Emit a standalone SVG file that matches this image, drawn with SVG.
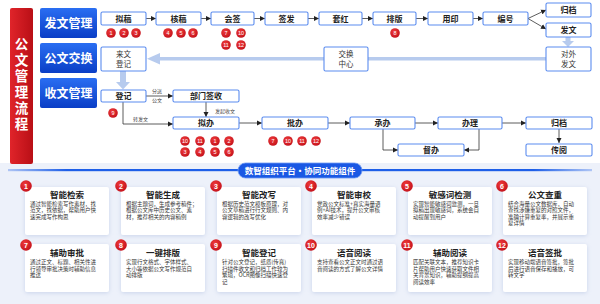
<svg xmlns="http://www.w3.org/2000/svg" width="600" height="304" viewBox="0 0 600 304">
<defs>
<linearGradient id="gBlue" x1="0" y1="0" x2="0" y2="1"><stop offset="0" stop-color="#2a6ef2"/><stop offset="1" stop-color="#0a3ec6"/></linearGradient>
<linearGradient id="gRed" x1="0" y1="0" x2="1" y2="0"><stop offset="0" stop-color="#e0242a"/><stop offset="1" stop-color="#b90f16"/></linearGradient>
<linearGradient id="gLine" x1="0" y1="0" x2="1" y2="0"><stop offset="0" stop-color="#1e5fe8" stop-opacity="0.3"/><stop offset="0.1" stop-color="#1e5fe8"/><stop offset="0.9" stop-color="#1e5fe8"/><stop offset="1" stop-color="#1e5fe8" stop-opacity="0.3"/></linearGradient>
<radialGradient id="gDot" cx="0.4" cy="0.35" r="0.7"><stop offset="0" stop-color="#ee3a3a"/><stop offset="1" stop-color="#c3101a"/></radialGradient>
<filter id="sh" x="-20%" y="-20%" width="140%" height="140%"><feDropShadow dx="0" dy="1" stdDeviation="2" flood-color="#9fb2d8" flood-opacity="0.45"/></filter>
<marker id="ah" markerWidth="6" markerHeight="6" refX="5" refY="3" orient="auto" markerUnits="userSpaceOnUse"><path d="M0,0.5 L5,3 L0,5.5 Z" fill="#222"/></marker>
</defs>
<style>
.box{fill:#fff;stroke:#5b8cef;stroke-width:1.1}
.bt{font-family:"Noto Sans CJK SC","Noto Sans",sans-serif;font-size:8px;font-weight:bold;fill:#222;text-anchor:middle}
.bt2{font-family:"Noto Sans CJK SC","Noto Sans",sans-serif;font-size:7.5px;fill:#333;text-anchor:middle}
.sm{font-family:"Noto Sans CJK SC","Noto Sans",sans-serif;font-size:5px;fill:#444}
.ln{fill:none;stroke:#333;stroke-width:0.8;marker-end:url(#ah)}
.dot{fill:url(#gDot)}
.dn{font-family:"Liberation Sans",sans-serif;font-size:5.5px;fill:#fff;text-anchor:middle}
.btn{fill:url(#gBlue)}
.btnt{font-family:"Noto Sans CJK SC","Noto Sans",sans-serif;font-size:12px;font-weight:bold;fill:#fff;text-anchor:middle}
.card{fill:#fff;filter:url(#sh)}
.ct{font-family:"Noto Sans CJK SC","Noto Sans",sans-serif;font-size:8.5px;font-weight:bold;fill:#222;text-anchor:middle}
.cd{font-family:"Noto Sans CJK SC","Noto Sans",sans-serif;font-size:5.5px;fill:#333}
.bd{fill:url(#gDot)}
.bn{font-family:"Liberation Sans",sans-serif;font-size:7px;font-weight:bold;fill:#fff;text-anchor:middle}
.vt{font-family:"Noto Sans CJK SC",sans-serif;font-size:13.5px;font-weight:bold;fill:#fff;text-anchor:middle;writing-mode:vertical-rl;letter-spacing:2.5px}
</style>
<rect width="600" height="304" fill="#fff"/>
<rect x="0" y="163" width="600" height="141" fill="#edf1fa"/>

<g id="sidebar">
<rect x="10" y="8" width="23" height="156" rx="2" fill="url(#gRed)"/>
<text class="vt" x="21.5" y="85">公文管理流程</text>
</g>

<g id="btn-fawen"><rect class="btn" x="40" y="8" width="57" height="30" rx="2"/><text class="btnt" x="68.5" y="27.5">发文管理</text></g>
<g id="btn-jiaohuan"><rect class="btn" x="40" y="43" width="57" height="30" rx="2"/><text class="btnt" x="68.5" y="62.5">公文交换</text></g>
<g id="btn-shouwen"><rect class="btn" x="40" y="78" width="57" height="30" rx="2"/><text class="btnt" x="68.5" y="97.5">收文管理</text></g>

<g id="connectors">
<rect x="158" y="57" width="388" height="3.5" fill="#b7cbee"/>
<path d="M147,58.75 L160,53 L160,64.5 Z" fill="#b7cbee"/>
<rect x="565.5" y="37" width="5" height="5" fill="#b7cbee"/>
<path d="M562,41 L574,41 L568,47 Z" fill="#b7cbee"/>
<rect x="120" y="71" width="6" height="12" fill="#b7cbee"/>
<path d="M116,82 L130,82 L123,89.5 Z" fill="#b7cbee"/>
<line class="ln" x1="146" y1="18.5" x2="156" y2="18.5"/>
<line class="ln" x1="201" y1="18.5" x2="211" y2="18.5"/>
<line class="ln" x1="254" y1="18.5" x2="265" y2="18.5"/>
<line class="ln" x1="308" y1="18.5" x2="319" y2="18.5"/>
<line class="ln" x1="362" y1="18.5" x2="373" y2="18.5"/>
<line class="ln" x1="416" y1="18.5" x2="428" y2="18.5"/>
<line class="ln" x1="473" y1="18.5" x2="483" y2="18.5"/>
<line class="ln" x1="528" y1="18.5" x2="546" y2="10"/>
<line class="ln" x1="528" y1="18.5" x2="546" y2="29"/>
<line class="ln" x1="146" y1="96" x2="173" y2="96"/>
<path class="ln" d="M123,102 L123,124 L173,124"/>
<line class="ln" x1="206" y1="102" x2="206" y2="117"/>
<line class="ln" x1="239" y1="123" x2="262" y2="123"/>
<line class="ln" x1="328" y1="123" x2="350" y2="123"/>
<line class="ln" x1="415" y1="123" x2="438" y2="123"/>
<line class="ln" x1="502" y1="123" x2="526" y2="123"/>
<path class="ln" d="M383,129 L383,150 L398,150"/>
<path class="ln" d="M479,129 L479,150 L464,150"/>
<line class="ln" x1="559" y1="129" x2="559" y2="143"/>
<text class="sm" x="152" y="93">分送</text>
<text class="sm" x="152" y="102">公文</text>
<text class="sm" x="133" y="121">转发文</text>
<text class="sm" x="215" y="113">发起收文</text>
</g>

<g id="n-nigao"><rect class="box" x="101" y="12" width="45" height="13" rx="1.5"/><text class="bt" x="123.5" y="21.5">拟稿</text></g>
<g id="n-hegao"><rect class="box" x="156" y="12" width="45" height="13" rx="1.5"/><text class="bt" x="178.5" y="21.5">核稿</text></g>
<g id="n-huiqian"><rect class="box" x="211" y="12" width="43" height="13" rx="1.5"/><text class="bt" x="232.5" y="21.5">会签</text></g>
<g id="n-qianfa"><rect class="box" x="265" y="12" width="43" height="13" rx="1.5"/><text class="bt" x="286.5" y="21.5">签发</text></g>
<g id="n-taohong"><rect class="box" x="319" y="12" width="43" height="13" rx="1.5"/><text class="bt" x="340.5" y="21.5">套红</text></g>
<g id="n-paiban"><rect class="box" x="373" y="12" width="43" height="13" rx="1.5"/><text class="bt" x="394.5" y="21.5">排版</text></g>
<g id="n-yongyin"><rect class="box" x="428" y="12" width="45" height="13" rx="1.5"/><text class="bt" x="450.5" y="21.5">用印</text></g>
<g id="n-bianhao"><rect class="box" x="483" y="12" width="45" height="13" rx="1.5"/><text class="bt" x="505.5" y="21.5">编号</text></g>
<g id="n-guidang1"><rect class="box" x="546" y="3" width="45" height="14" rx="1.5"/><text class="bt" x="568.5" y="12.8">归档</text></g>
<g id="n-fawen"><rect class="box" x="546" y="23" width="45" height="14" rx="1.5"/><text class="bt" x="568.5" y="32.8">发文</text></g>
<g id="n-duiwai"><rect class="box" x="546" y="47" width="45" height="24" rx="1.5"/><text class="bt2" x="568.5" y="57">对外</text><text class="bt2" x="568.5" y="67">发文</text></g>
<g id="n-jiaohuanzx"><rect class="box" x="324" y="47" width="44" height="24" rx="1.5"/><text class="bt2" x="346" y="57">交换</text><text class="bt2" x="346" y="67">中心</text></g>
<g id="n-laiwen"><rect class="box" x="101" y="47" width="45" height="24" rx="1.5"/><text class="bt2" x="123.5" y="57">来文</text><text class="bt2" x="123.5" y="67">登记</text></g>
<g id="n-dengji"><rect class="box" x="101" y="90" width="45" height="12" rx="1.5"/><text class="bt" x="123.5" y="99">登记</text></g>
<g id="n-bumen"><rect class="box" x="173" y="90" width="66" height="12" rx="1.5"/><text class="bt" x="206" y="99">部门签收</text></g>
<g id="n-niban"><rect class="box" x="173" y="117" width="66" height="12" rx="1.5"/><text class="bt" x="206" y="126">拟办</text></g>
<g id="n-piban"><rect class="box" x="262" y="117" width="66" height="12" rx="1.5"/><text class="bt" x="295" y="126">批办</text></g>
<g id="n-chengban"><rect class="box" x="350" y="117" width="65" height="12" rx="1.5"/><text class="bt" x="382.5" y="126">承办</text></g>
<g id="n-banli"><rect class="box" x="438" y="117" width="64" height="12" rx="1.5"/><text class="bt" x="470" y="126">办理</text></g>
<g id="n-guidang2"><rect class="box" x="526" y="117" width="66" height="12" rx="1.5"/><text class="bt" x="559" y="126">归档</text></g>
<g id="n-duban"><rect class="box" x="398" y="144" width="66" height="12" rx="1.5"/><text class="bt" x="431" y="153">督办</text></g>
<g id="n-chuanyue"><rect class="box" x="526" y="144" width="66" height="12" rx="1.5"/><text class="bt" x="559" y="153">传阅</text></g>

<g id="markers">
<circle class="dot" cx="111" cy="33" r="4.8"/><text class="dn" x="111" y="35">1</text>
<circle class="dot" cx="124" cy="33" r="4.8"/><text class="dn" x="124" y="35">2</text>
<circle class="dot" cx="136" cy="33" r="4.8"/><text class="dn" x="136" y="35">3</text>
<circle class="dot" cx="168" cy="33" r="4.8"/><text class="dn" x="168" y="35">4</text>
<circle class="dot" cx="181" cy="33" r="4.8"/><text class="dn" x="181" y="35">5</text>
<circle class="dot" cx="193" cy="33" r="4.8"/><text class="dn" x="193" y="35">6</text>
<circle class="dot" cx="226" cy="33" r="4.8"/><text class="dn" x="226" y="35">7</text>
<circle class="dot" cx="241" cy="33" r="4.8"/><text class="dn" x="241" y="35">10</text>
<circle class="dot" cx="226" cy="45" r="4.8"/><text class="dn" x="226" y="47">11</text>
<circle class="dot" cx="241" cy="45" r="4.8"/><text class="dn" x="241" y="47">12</text>
<circle class="dot" cx="395" cy="33" r="4.8"/><text class="dn" x="395" y="35">8</text>
<circle class="dot" cx="113" cy="113" r="4.8"/><text class="dn" x="113" y="115">9</text>
<circle class="dot" cx="185" cy="141" r="4.8"/><text class="dn" x="185" y="143">10</text>
<circle class="dot" cx="200" cy="141" r="4.8"/><text class="dn" x="200" y="143">11</text>
<circle class="dot" cx="215" cy="141" r="4.8"/><text class="dn" x="215" y="143">1</text>
<circle class="dot" cx="229" cy="141" r="4.8"/><text class="dn" x="229" y="143">2</text>
<circle class="dot" cx="185" cy="152" r="4.8"/><text class="dn" x="185" y="154">3</text>
<circle class="dot" cx="200" cy="152" r="4.8"/><text class="dn" x="200" y="154">4</text>
<circle class="dot" cx="215" cy="152" r="4.8"/><text class="dn" x="215" y="154">5</text>
<circle class="dot" cx="229" cy="152" r="4.8"/><text class="dn" x="229" y="154">6</text>
<circle class="dot" cx="273" cy="141" r="4.8"/><text class="dn" x="273" y="143">7</text>
<circle class="dot" cx="288" cy="141" r="4.8"/><text class="dn" x="288" y="143">10</text>
<circle class="dot" cx="302" cy="141" r="4.8"/><text class="dn" x="302" y="143">11</text>
<circle class="dot" cx="316" cy="141" r="4.8"/><text class="dn" x="316" y="143">12</text>
</g>

<g id="divider">
<rect x="8" y="169" width="584" height="2.2" fill="url(#gLine)"/>
<rect x="238" y="163" width="124" height="15" rx="7.5" fill="#1a58e4" stroke="#6f9af2" stroke-width="0.8"/>
<text x="300" y="173.8" font-family="Noto Sans CJK SC,sans-serif" font-size="8.5" font-weight="bold" fill="#fff" text-anchor="middle">数智组织平台·协同功能组件</text>
</g>

<g id="card1"><rect class="card" x="25" y="187" width="84" height="48" rx="2"/><circle class="bd" cx="26" cy="186" r="5.8"/><text class="bn" x="26" y="188.5">1</text><text class="ct" x="67" y="197.5">智能检索</text><text class="cd"><tspan x="30" y="205.5">通过智能检索写作素材，找</tspan><tspan x="30" y="212.3">范文，找依据，帮助用户快</tspan><tspan x="30" y="219.1">速完成写作构思</tspan></text></g>
<g id="card2"><rect class="card" x="121" y="187" width="84" height="48" rx="2"/><circle class="bd" cx="121" cy="186" r="5.8"/><text class="bn" x="121" y="188.5">2</text><text class="ct" x="163" y="197.5">智能生成</text><text class="cd"><tspan x="126" y="205.5">根据主题词，生成参考稿件；</tspan><tspan x="126" y="212.3">根据公文库中历史公文、素</tspan><tspan x="126" y="219.1">材，推荐相关的内容稿例</tspan></text></g>
<g id="card3"><rect class="card" x="217" y="187" width="84" height="48" rx="2"/><circle class="bd" cx="216" cy="186" r="5.8"/><text class="bn" x="216" y="188.5">3</text><text class="ct" x="259" y="197.5">智能改写</text><text class="cd"><tspan x="222" y="205.5">根据历史范文模板原理，对</tspan><tspan x="222" y="212.3">公文草稿进行行文规则、内</tspan><tspan x="222" y="219.1">容逻辑的改写优化</tspan></text></g>
<g id="card4"><rect class="card" x="312" y="187" width="84" height="48" rx="2"/><circle class="bd" cx="311" cy="186" r="5.8"/><text class="bn" x="311" y="188.5">4</text><text class="ct" x="354" y="197.5">智能审校</text><text class="cd"><tspan x="317" y="205.5">党政公文标准+真实海量语</tspan><tspan x="317" y="212.3">例+AI技术，提升公文审核</tspan><tspan x="317" y="219.1">效率减少错误</tspan></text></g>
<g id="card5"><rect class="card" x="408" y="187" width="84" height="48" rx="2"/><circle class="bd" cx="407" cy="186" r="5.8"/><text class="bn" x="407" y="188.5">5</text><text class="ct" x="450" y="197.5">敏感词检测</text><text class="cd"><tspan x="413" y="205.5">实现智能敏感词监测，一旦</tspan><tspan x="413" y="212.3">拟稿出现敏感词，系统会自</tspan><tspan x="413" y="219.1">动提醒到用户</tspan></text></g>
<g id="card6"><rect class="card" x="503" y="187" width="84" height="48" rx="2"/><circle class="bd" cx="502" cy="186" r="5.8"/><text class="bn" x="502" y="188.5">6</text><text class="ct" x="545" y="197.5">公文查重</text><text class="cd"><tspan x="508" y="205.5">结合海量公文数据库，自动</tspan><tspan x="508" y="212.1">查找涉嫌重复的对照文件，</tspan><tspan x="508" y="218.7">准确计算重复率，并展示重</tspan><tspan x="508" y="225.3">复详情</tspan></text></g>

<g id="card7"><rect class="card" x="25" y="244" width="84" height="48" rx="2"/><circle class="bd" cx="26" cy="245" r="5.8"/><text class="bn" x="26" y="247.5">7</text><text class="ct" x="67" y="256">辅助审批</text><text class="cd"><tspan x="30" y="264">通过正文、标题、相关性进</tspan><tspan x="30" y="270.6">行领导审批决策时辅助信息</tspan><tspan x="30" y="277.2">推送</tspan></text></g>
<g id="card8"><rect class="card" x="121" y="244" width="84" height="48" rx="2"/><circle class="bd" cx="121" cy="245" r="5.8"/><text class="bn" x="121" y="247.5">8</text><text class="ct" x="163" y="256">一键排版</text><text class="cd"><tspan x="126" y="264">实现行文格式、字体样式、</tspan><tspan x="126" y="270.6">大小等依据公文写作规范自</tspan><tspan x="126" y="277.2">动排版</tspan></text></g>
<g id="card9"><rect class="card" x="217" y="244" width="84" height="48" rx="2"/><circle class="bd" cx="216" cy="245" r="5.8"/><text class="bn" x="216" y="247.5">9</text><text class="ct" x="259" y="256">智能登记</text><text class="cd"><tspan x="222" y="264">针对公文登记，纸质(传真)</tspan><tspan x="222" y="270.6">扫描件收文和归档工作较为</tspan><tspan x="222" y="277.2">繁琐，OCR图像扫描快速登</tspan><tspan x="222" y="283.8">记</tspan></text></g>
<g id="card10"><rect class="card" x="312" y="244" width="84" height="48" rx="2"/><circle class="bd" cx="311" cy="245" r="5.8"/><text class="bn" x="311" y="247.5" font-size="6">10</text><text class="ct" x="354" y="256">语音阅读</text><text class="cd"><tspan x="317" y="264">支持查看公文正文时通过语</tspan><tspan x="317" y="270.6">音阅读的方式了解公文详情</tspan></text></g>
<g id="card11"><rect class="card" x="408" y="244" width="84" height="48" rx="2"/><circle class="bd" cx="407" cy="245" r="5.8"/><text class="bn" x="407" y="247.5" font-size="6">11</text><text class="ct" x="450" y="256">辅助阅读</text><text class="cd"><tspan x="413" y="264">匹配关联文本，推荐知识卡</tspan><tspan x="413" y="270.6">片帮助用户快速获取文件相</tspan><tspan x="413" y="277.2">关背景知识，辅助提纲提高</tspan><tspan x="413" y="283.8">阅读效率</tspan></text></g>
<g id="card12"><rect class="card" x="503" y="244" width="84" height="48" rx="2"/><circle class="bd" cx="502" cy="245" r="5.8"/><text class="bn" x="502" y="247.5" font-size="6">12</text><text class="ct" x="545" y="256">语音签批</text><text class="cd"><tspan x="508" y="264">实现移动端语音签批，签批</tspan><tspan x="508" y="270.6">后进行语音保存和播放，可</tspan><tspan x="508" y="277.2">转文字</tspan></text></g>
</svg>
